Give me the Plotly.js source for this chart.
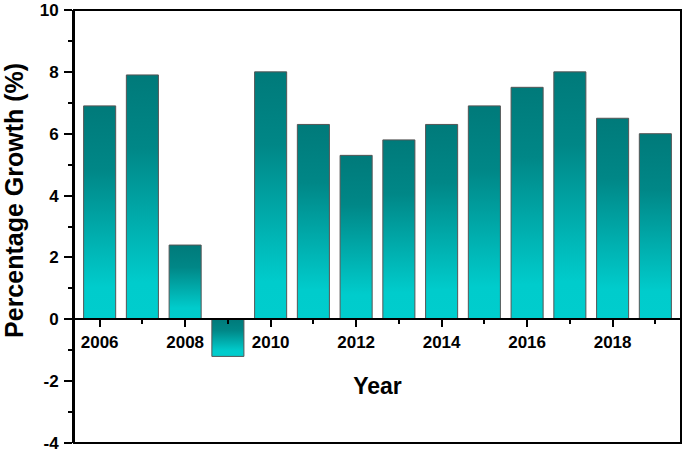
<!DOCTYPE html>
<html>
<head>
<meta charset="utf-8">
<script src="https://cdn.plot.ly/plotly-3.0.1.min.js"></script>
<style>
  html, body { margin:0; padding:0; background:#fff; }
  #chart { width:685px; height:452px; }
</style>
</head>
<body>
<div id="chart"></div>
<script>
/* ==========================================
   DATA
========================================== */

const years = [2006, 2007, 2008, 2009, 2010, 2011, 2012, 2013, 2014, 2015, 2016, 2017, 2018, 2019];

const growth = [6.9, 7.9, 2.4, -1.2, 8.0, 6.3, 5.3, 5.8, 6.3, 6.9, 7.5, 8.0, 6.5, 6.0];

const yTicks = [-4, -2, 0, 2, 4, 6, 8, 10];

const xTicks = [2006, 2008, 2010, 2012, 2014, 2016, 2018];


/* ==========================================
   DRAW
========================================== */

const labelFont = {family:"Liberation Sans, Arial, sans-serif", size:17, color:"#000", weight:"bold"};
const titleFont = {family:"Liberation Sans, Arial, sans-serif", size:23, color:"#000", weight:"bold"};

Plotly.newPlot(
    "chart",
    [
        {
            type:"bar",
            x:years,
            y:growth,
            width:0.75,
            marker:{
                color:"#00a5a5",
                line:{color:"#555", width:1}
            },
            hoverinfo:"x+y"
        }
    ],
    {
        width:685,
        height:452,
        margin:{l:74, r:4, t:10, b:9},
        paper_bgcolor:"#fff",
        plot_bgcolor:"#fff",
        showlegend:false,
        xaxis:{
            range:[2005.4, 2019.6],
            anchor:"free",
            position:(0 - yTicks[0]) / (yTicks[yTicks.length-1] - yTicks[0]),
            tickmode:"array",
            tickvals:xTicks,
            ticktext:xTicks.map(String),
            ticks:"outside",
            ticklen:7,
            tickwidth:2,
            tickcolor:"#000",
            minor:{dtick:1, tick0:2006, ticklen:4, tickwidth:2, tickcolor:"#000", ticks:"outside"},
            showline:true,
            linewidth:2,
            linecolor:"#000",
            showgrid:false,
            zeroline:false,
            tickfont:labelFont,
            title:{text:"Year", font:titleFont, standoff:26}
        },
        yaxis:{
            range:[-4, 10],
            tickmode:"array",
            tickvals:yTicks,
            ticktext:yTicks.map(String),
            ticks:"outside",
            ticklen:8,
            tickwidth:2,
            tickcolor:"#000",
            minor:{dtick:1, tick0:0, ticklen:4, tickwidth:2, tickcolor:"#000", ticks:"outside"},
            showline:true,
            linewidth:2,
            linecolor:"#000",
            showgrid:false,
            zeroline:false,
            tickfont:labelFont,
            ticklabeloverflow:"allow",
            ticklabelstandoff:2
        },
        annotations:[
            {
                text:"Percentage Growth (%)",
                xref:"paper", yref:"paper",
                x:0, y:0.559,
                xanchor:"center", yanchor:"middle",
                xshift:-60,
                textangle:-90,
                showarrow:false,
                font:{family:"Liberation Sans, Arial, sans-serif", size:25, color:"#000", weight:"bold"}
            }
        ],
        shapes:[
            {
                type:"rect", xref:"paper", yref:"paper",
                x0:0, x1:1, y0:0, y1:1,
                line:{color:"#000", width:2},
                layer:"above"
            }
        ]
    },
    {displayModeBar:false}
).then(function(gd){

    /* gradient fill for the bars */
    const svgNS = "http://www.w3.org/2000/svg";
    const defs = gd.querySelector(".main-svg defs");
    const grad = document.createElementNS(svgNS, "linearGradient");
    grad.setAttribute("id", "barGrad");
    grad.setAttribute("x1", "0");
    grad.setAttribute("y1", "0");
    grad.setAttribute("x2", "0");
    grad.setAttribute("y2", "1");
    [
        ["0", "#007a7a"],
        ["0.3", "#008787"],
        ["0.85", "#00cccc"],
        ["1", "#00cdcd"]
    ].forEach(function(s){
        const stop = document.createElementNS(svgNS, "stop");
        stop.setAttribute("offset", s[0]);
        stop.setAttribute("stop-color", s[1]);
        grad.appendChild(stop);
    });
    defs.appendChild(grad);

    gd.querySelectorAll(".bars .point path").forEach(function(p){
        p.style.fill = "url(#barGrad)";
    });
});
</script>
</body>
</html>
